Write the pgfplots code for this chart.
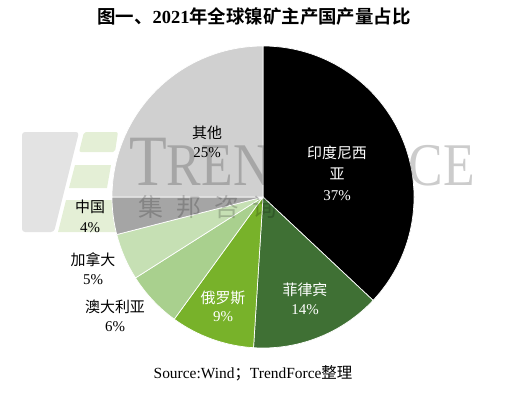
\documentclass[border=0pt]{standalone}
\usepackage{fontspec}
\setmainfont{Liberation Serif}
\newfontfamily\cjk[BoldFont={Noto Sans CJK SC Bold}]{Noto Sans CJK SC}
\usepackage{pgfplots}
\usepackage{pgfplotstable}
\pgfplotsset{compat=1.18}
\definecolor{slice0}{HTML}{000000}
\definecolor{slice1}{HTML}{3F7034}
\definecolor{slice2}{HTML}{78B22A}
\definecolor{slice3}{HTML}{A9D08E}
\definecolor{slice4}{HTML}{C6E0B4}
\definecolor{slice5}{HTML}{A5A5A5}
\definecolor{slice6}{HTML}{D0D0D0}
\definecolor{logogray}{HTML}{E3E3E3}
\definecolor{logogreen}{HTML}{E4EFD6}
\pgfplotstableread{
name value
Indonesia 37
Philippines 14
Russia 9
Australia 6
Canada 5
China 4
Others 25
}\piedata
\begin{document}
\xdef\cur{90}%
\pgfplotstableforeachcolumnelement{value}\of\piedata\as\v{%
  \expandafter\xdef\csname sa\pgfplotstablerow\endcsname{\cur}%
  \pgfmathsetmacro{\nxt}{\cur-3.6*\v}%
  \expandafter\xdef\csname ea\pgfplotstablerow\endcsname{\nxt}%
  \xdef\cur{\nxt}%
}%
\begin{tikzpicture}
\begin{axis}[
  x=1bp, y=1bp,
  xmin=0, xmax=512, ymin=0, ymax=398,
  hide axis, enlargelimits=false, clip=false,
]
\path (axis cs:0,0) rectangle (axis cs:512,398);
% watermark logo
\fill[logogray, rounded corners=3bp] (axis cs:22,266) -- (axis cs:79,266) -- (axis cs:54,166) -- (axis cs:22,166) -- cycle;
\fill[logogreen, rounded corners=2bp] (axis cs:84,266) -- (axis cs:118,266) -- (axis cs:115,246) -- (axis cs:79,246) -- cycle;
\fill[logogreen] (axis cs:75,233) -- (axis cs:111,233) -- (axis cs:107,210) -- (axis cs:69,210) -- cycle;
\fill[logogreen] (axis cs:66,198) -- (axis cs:125,198) -- (axis cs:125,166) -- (axis cs:58,166) -- cycle;
% pie
\pgfplotsinvokeforeach{0,...,6}{
  \fill[fill=slice#1, draw=white, line width=0.7bp, line join=round]
    (axis cs:263,201) -- ++(\csname sa#1\endcsname:151bp)
    arc[start angle=\csname sa#1\endcsname, end angle=\csname ea#1\endcsname, radius=151bp] -- cycle;
}
% watermark text
\node[anchor=base west, inner sep=0, text=black, opacity=0.2, yscale=1.17] at (axis cs:129,213)
  {{\fontsize{62}{62}\selectfont T}{\fontsize{52}{52}\selectfont RENDFORCE}};
\node[text=black, opacity=0.2, inner sep=0] at (axis cs:151,191) {\cjk\fontsize{25}{25}\selectfont 集};
\node[text=black, opacity=0.2, inner sep=0] at (axis cs:189,191) {\cjk\fontsize{25}{25}\selectfont 邦};
\node[text=black, opacity=0.2, inner sep=0] at (axis cs:227,191) {\cjk\fontsize{25}{25}\selectfont 咨};
\node[text=black, opacity=0.2, inner sep=0] at (axis cs:265,191) {\cjk\fontsize{25}{25}\selectfont 询};
% title
\node at (axis cs:254,381) {\fontsize{18.5}{20}\selectfont{\cjk\bfseries 图一、}\textbf{2021}{\cjk\bfseries 年全球镍矿主产国产量占比}};
% labels
\begingroup
\def\lab#1#2#3#4{\node[text=#4, inner sep=0] at (axis cs:#1,#2) {#3};}
\lab{207}{265}{\cjk\fontsize{15}{15}\selectfont 其他}{black}
\lab{207}{245}{\fontsize{15}{15}\selectfont 25\%}{black}
\lab{337}{245}{\cjk\fontsize{15}{15}\selectfont 印度尼西}{white}
\lab{337}{224}{\cjk\fontsize{15}{15}\selectfont 亚}{white}
\lab{337}{202}{\fontsize{15}{15}\selectfont 37\%}{white}
\lab{305}{108}{\cjk\fontsize{15}{15}\selectfont 菲律宾}{white}
\lab{305}{88}{\fontsize{15}{15}\selectfont 14\%}{white}
\lab{223}{100}{\cjk\fontsize{15}{15}\selectfont 俄罗斯}{white}
\lab{223}{81}{\fontsize{15}{15}\selectfont 9\%}{white}
\lab{115}{91}{\cjk\fontsize{15}{15}\selectfont 澳大利亚}{black}
\lab{115}{71}{\fontsize{15}{15}\selectfont 6\%}{black}
\lab{93}{138}{\cjk\fontsize{15}{15}\selectfont 加拿大}{black}
\lab{93}{118}{\fontsize{15}{15}\selectfont 5\%}{black}
\lab{90}{191}{\cjk\fontsize{15}{15}\selectfont 中国}{black}
\lab{90}{170}{\fontsize{15}{15}\selectfont 4\%}{black}
\endgroup
% source
\node at (axis cs:253,25) {\fontsize{15.5}{16}\selectfont Source:Wind{\cjk ；}TrendForce{\cjk 整理}};
\end{axis}
\end{tikzpicture}
\end{document}
